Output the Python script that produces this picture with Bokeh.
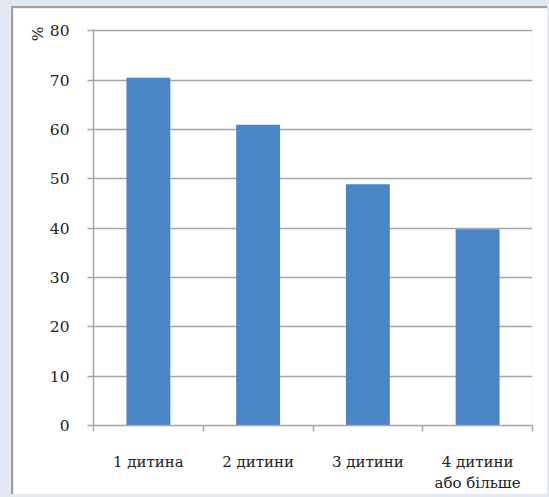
from bokeh.plotting import figure
from bokeh.models import Range1d, FixedTicker, Title
from bokeh.embed import file_html
from bokeh.resources import INLINE

categories = ["1 дитина", "2 дитини", "3 дитини", "4 дитини\nабо більше"]
values = [70.5, 61.0, 48.9, 39.8]
y_ticks = [0, 10, 20, 30, 40, 50, 60, 70, 80]
y_label = "%"

FONT = "DejaVu Serif"
GRID = "#a6a6a6"
BAR = "#4a85c6"
TXT = "#222222"

positions = list(range(len(categories)))

p = figure(width=536, height=488, output_backend="svg", toolbar_location=None,
           x_range=Range1d(-0.5, len(categories) - 0.5), y_range=Range1d(0, 80.3),
           min_border_left=80, min_border_right=17, min_border_top=21, min_border_bottom=71)
p.styles = {"border-left": "2px solid #a0a0a0", "border-top": "2px solid #a0a0a0",
            "margin-left": "11px", "margin-top": "6px"}
p.outline_line_color = None
p.background_fill_color = "white"
p.border_fill_color = "white"

p.vbar(x=positions, top=values, width=0.4, color=BAR, line_color=None)

p.xgrid.grid_line_color = None
p.ygrid.ticker = FixedTicker(ticks=y_ticks)
p.ygrid.grid_line_color = GRID
p.ygrid.grid_line_width = 1.5

ya = p.yaxis[0]
ya.ticker = FixedTicker(ticks=y_ticks)
ya.axis_line_color = GRID
ya.axis_line_width = 1.5
ya.major_tick_line_color = GRID
ya.major_tick_line_width = 1.5
ya.major_tick_out = 6
ya.major_tick_in = 0
ya.minor_tick_line_color = None
ya.major_label_standoff = 18
ya.major_label_text_font = FONT
ya.major_label_text_font_size = "15.5px"
ya.major_label_text_color = TXT

xa = p.xaxis[0]
xa.ticker = FixedTicker(ticks=positions, minor_ticks=[i - 0.5 for i in range(len(categories) + 1)])
xa.major_label_overrides = {i: c for i, c in enumerate(categories)}
xa.axis_line_color = GRID
xa.axis_line_width = 1.5
xa.major_tick_line_color = None
xa.major_tick_out = 0
xa.major_tick_in = 0
xa.minor_tick_line_color = GRID
xa.minor_tick_line_width = 1.5
xa.minor_tick_out = 6
xa.minor_tick_in = 0
xa.major_label_standoff = 21
xa.major_label_text_font = FONT
xa.major_label_text_font_size = "15px"
xa.major_label_text_color = TXT

p.add_layout(Title(text=y_label, align="right", text_font=FONT, text_font_size="15.5px",
                   text_font_style="normal", text_color=TXT, standoff=0, offset=-3), "left")

html = file_html(p, INLINE)
html = html.replace("</head>", "<style>html, body { background: #e3e9f0 !important; }</style></head>", 1)
open("out.html", "w").write(html)
